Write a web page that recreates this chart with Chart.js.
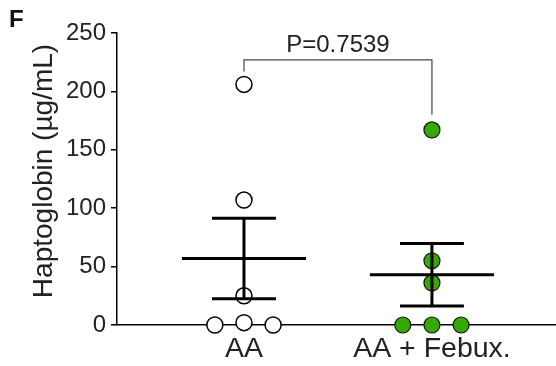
<!DOCTYPE html>
<html>
<head>
<meta charset="utf-8">
<script src="https://cdn.jsdelivr.net/npm/chart.js@4.4.1/dist/chart.umd.min.js"></script>
<style>
  html, body { margin: 0; padding: 0; background: #fff; }
  #wrap { width: 556px; height: 366px; position: relative; }
</style>
</head>
<body>
<div id="wrap"><canvas id="chart"></canvas></div>
<script>
"use strict";

// groups and their x position on the linear scale
const groupLabels = ["AA", "AA + Febux."];
const groupPos = [1, 2];

// individual animals (µg/mL)
const aaValues = [206, 107, 25, 2, 0, 0];
const aaJitter = [0, 0, 0, 0, -0.155, 0.155];
const febuxValues = [167, 55, 36, 0, 0, 0];
const febuxJitter = [0, 0, 0, -0.155, 0, 0.155];

// mean and SEM per group
const groupMean = [57, 43];
const groupSem = [34.5, 26.7];

const yTicks = [0, 50, 100, 150, 200, 250];
const yTitle = "Haptoglobin (µg/mL)";

const pText = "P=0.7539";
const bracketTop = 227;
const bracketLegs = [217, 180];

const FONT = "'Liberation Sans', Arial, Helvetica, sans-serif";

function pointsOf(values, jitter, pos) {
    return values.map((v, i) => ({x: pos + jitter[i], y: v}));
}

function errorBarSets(idx) {
    const c = groupPos[idx];
    const m = groupMean[idx];
    const s = groupSem[idx];
    const lineStyle = {type: "line", borderColor: "#000", borderWidth: 3, pointRadius: 0, fill: false, clip: false, order: 0};
    return [
        Object.assign({data: [{x: c - 0.33, y: m}, {x: c + 0.33, y: m}]}, lineStyle),
        Object.assign({data: [{x: c, y: m - s}, {x: c, y: m + s}]}, lineStyle),
        Object.assign({data: [{x: c - 0.17, y: m + s}, {x: c + 0.17, y: m + s}]}, lineStyle),
        Object.assign({data: [{x: c - 0.17, y: m - s}, {x: c + 0.17, y: m - s}]}, lineStyle),
    ];
}

const labelsPlugin = {
    id: "labels",
    afterDraw(chart) {
        const ctx = chart.ctx;
        const xs = chart.scales.x, ys = chart.scales.y;
        ctx.save();
        ctx.fillStyle = "#111";
        ctx.font = "bold 24px " + FONT;
        ctx.textAlign = "left";
        ctx.textBaseline = "alphabetic";
        ctx.fillText("F", 9, 27);

        // p value over the bracket
        ctx.fillStyle = "#222";
        ctx.font = "24px " + FONT;
        ctx.textAlign = "center";
        ctx.textBaseline = "alphabetic";
        ctx.fillText(pText, xs.getPixelForValue((groupPos[0] + groupPos[1]) / 2), ys.getPixelForValue(bracketTop) - 8);

        // y axis title
        ctx.font = "28px " + FONT;
        ctx.translate(52, 171);
        ctx.rotate(-Math.PI / 2);
        ctx.fillText(yTitle, 0, 0);
        ctx.restore();
    }
};

const datasets = [
    {
        type: "scatter",
        data: pointsOf(aaValues, aaJitter, groupPos[0]),
        backgroundColor: "#fff",
        borderColor: "#000",
        borderWidth: 1.5,
        pointRadius: 8,
        clip: false,
        order: 1
    },
    {
        type: "scatter",
        data: pointsOf(febuxValues, febuxJitter, groupPos[1]),
        backgroundColor: "#36a800",
        borderColor: "#111",
        borderWidth: 1.2,
        pointRadius: 8,
        clip: false,
        order: 1
    },
    ...errorBarSets(0),
    ...errorBarSets(1),
    {
        type: "line",
        data: [
            {x: groupPos[0], y: bracketLegs[0]},
            {x: groupPos[0], y: bracketTop},
            {x: groupPos[1], y: bracketTop},
            {x: groupPos[1], y: bracketLegs[1]}
        ],
        borderColor: "#444",
        borderWidth: 1.2,
        pointRadius: 0,
        fill: false,
        clip: false,
        order: 0
    }
];

new Chart(document.getElementById("chart"), {
    type: "scatter",
    data: {datasets: datasets},
    plugins: [labelsPlugin],
    options: {
        responsive: true,
        maintainAspectRatio: false,
        animation: false,
        layout: {autoPadding: false, padding: {top: 33, right: 0, bottom: 0, left: 0}},
        plugins: {legend: {display: false}, tooltip: {enabled: false}},
        scales: {
            x: {
                type: "linear",
                min: 0.3245,
                max: 2.66,
                afterBuildTicks: (s) => { s.ticks = groupPos.map(v => ({value: v})); },
                afterFit: (s) => { s.height = 41; s.paddingLeft = 0; s.paddingRight = 0; },
                ticks: {
                    callback: (v) => groupLabels[groupPos.indexOf(v)],
                    font: {family: FONT, size: 28.5},
                    color: "#222",
                    padding: 7,
                    maxRotation: 0
                },
                grid: {drawOnChartArea: false, drawTicks: false},
                border: {display: true, color: "#000", width: 1.5}
            },
            y: {
                min: 0,
                max: 250,
                afterBuildTicks: (s) => { s.ticks = yTicks.map(v => ({value: v})); },
                afterFit: (s) => { s.width = 117; },
                ticks: {
                    font: {family: FONT, size: 24},
                    color: "#222",
                    padding: 5
                },
                grid: {drawOnChartArea: false, drawTicks: true, tickLength: 6, color: "#000", lineWidth: 1.5},
                border: {display: true, color: "#000", width: 1.5}
            }
        }
    }
});
</script>
</body>
</html>
